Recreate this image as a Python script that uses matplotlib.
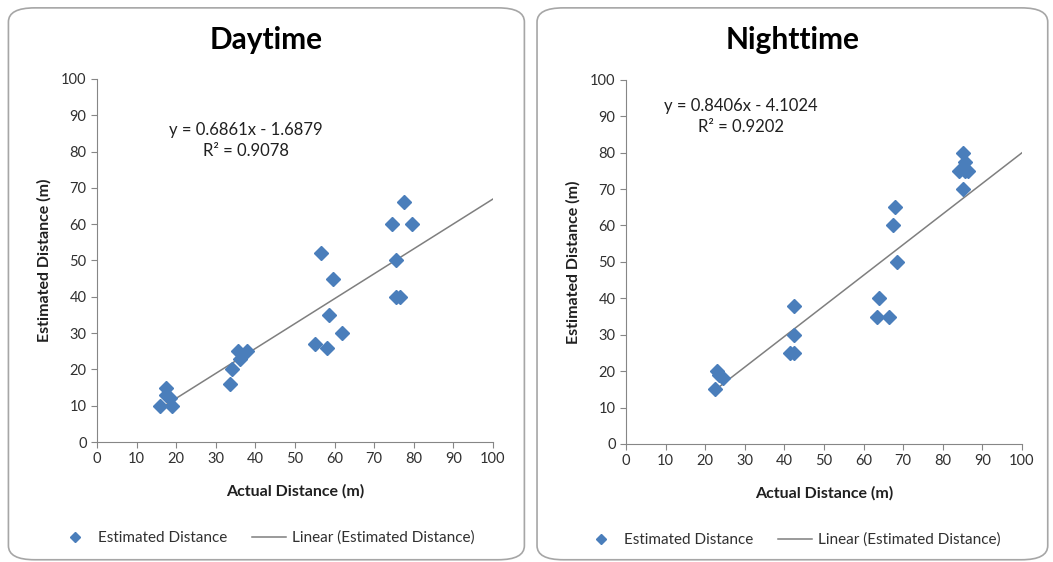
import matplotlib.pyplot as plt
from matplotlib.patches import FancyBboxPatch
import numpy as np

plt.rcParams['font.family'] = ['Lato', 'DejaVu Sans']

# daytime observations (actual, estimated), metres
day_actual = [16, 17.5, 17.5, 18.5, 19, 33.5, 34, 35.5, 36, 38,
              55, 56.5, 58, 58.5, 59.5, 62, 74.5, 75.5, 75.5, 76.5, 77.5, 79.5]
day_est = [10, 15, 13, 12, 10, 16, 20, 25, 23, 25,
           27, 52, 26, 35, 45, 30, 60, 50, 40, 40, 66, 60]
day_slope, day_icpt, day_r2 = 0.6861, -1.6879, 0.9078

# nighttime observations
night_actual = [22.5, 23, 23.5, 24.5, 41.5, 42.5, 42.5, 42.5,
                63.5, 64, 66.5, 67.5, 68, 68.5, 84, 85, 85, 85.5, 85.5, 86.5]
night_est = [15, 20, 19, 18, 25, 25, 30, 38,
             35, 40, 35, 60, 65, 50, 75, 70, 80, 77.5, 75, 75]
night_slope, night_icpt, night_r2 = 0.8406, -4.1024, 0.9202

blue = '#4a7ebb'


def draw_panel(fig, rect, box, title, xs, ys, slope, icpt, r2, eq_pos, leg_y):
    # rounded frame around the whole chart
    fig.patches.append(FancyBboxPatch((box[0], box[1]), box[2], box[3],
                                      boxstyle='round,pad=0,rounding_size=0.025',
                                      transform=fig.transFigure, fc='none',
                                      ec='#a6a6a6', lw=1.2, zorder=-1))
    cx = box[0] + box[2] / 2
    fig.text(cx, 0.929, title, ha='center', va='center',
             fontsize=21.5, fontweight='bold')
    ax = fig.add_axes(rect)
    ax.set_facecolor('none')
    pts, = ax.plot(xs, ys, 'D', color=blue, ms=7.3, mec=blue, zorder=3)
    lx = np.array([min(xs), 100])
    fit, = ax.plot(lx, slope * lx + icpt, color='#7f7f7f', lw=1.1, zorder=2)
    ax.set_xlim(0, 100)
    ax.set_ylim(0, 100)
    ax.set_xticks(np.arange(0, 101, 10))
    ax.set_yticks(np.arange(0, 101, 10))
    for s in ['top', 'right']:
        ax.spines[s].set_visible(False)
    for s in ['left', 'bottom']:
        ax.spines[s].set_color('#868686')
    ax.tick_params(direction='out', length=4, color='#868686',
                   labelsize=10.5, labelcolor='#303030')
    ax.set_xlabel('Actual Distance (m)', fontsize=11.5, fontweight='bold',
                  color='#202020', labelpad=13)
    ax.set_ylabel('Estimated Distance (m)', fontsize=11.5, fontweight='bold',
                  color='#202020', labelpad=7)
    ax.text(eq_pos[0], eq_pos[1],
            'y = %.4fx - %.4f\nR² = %.4f' % (slope, -icpt, r2),
            ha='center', va='top', fontsize=12, color='#202020',
            linespacing=1.4)
    fig.legend([pts, fit], ['Estimated Distance', 'Linear (Estimated Distance)'],
               loc='center', bbox_to_anchor=(cx, leg_y), ncol=2, frameon=False,
               fontsize=11, handlelength=2.2, handletextpad=0.4,
               columnspacing=1.6, labelcolor='#303030', markerscale=0.75)
    return ax


fig = plt.figure(figsize=(10.53, 5.62), dpi=100)

draw_panel(fig, [0.0921, 0.2135, 0.376, 0.646], [0.008, 0.004, 0.490, 0.982],
           'Daytime', day_actual, day_est, day_slope, day_icpt, day_r2,
           (37.6, 88.2), 1 - 538 / 562)
draw_panel(fig, [0.5945, 0.21, 0.376, 0.648], [0.510, 0.004, 0.485, 0.982],
           'Nighttime', night_actual, night_est, night_slope, night_icpt, night_r2,
           (29, 95), 1 - 540 / 562)

fig.savefig('out.png', dpi=100)
